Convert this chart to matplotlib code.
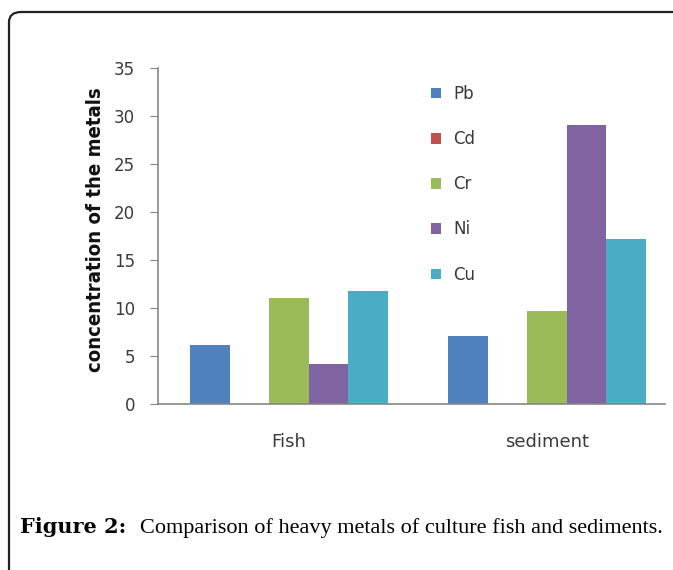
import matplotlib
matplotlib.use("Agg")
import matplotlib.pyplot as plt
import numpy as np
from matplotlib.patches import FancyBboxPatch

categories = ["Fish", "sediment"]
metals = ["Pb", "Cd", "Cr", "Ni", "Cu"]
Pb = [6.1, 7.1]
Cd = [0.0, 0.0]
Cr = [11.0, 9.7]
Ni = [4.2, 29.1]
Cu = [11.8, 17.2]
series = [Pb, Cd, Cr, Ni, Cu]
colors = ["#4F81BD", "#C0504D", "#9BBB59", "#8064A2", "#4BACC6"]
yticks = [0, 5, 10, 15, 20, 25, 30, 35]

W, H = 673, 570
fig = plt.figure(figsize=(W / 100, H / 100), dpi=100)

# rounded border
border = FancyBboxPatch((9 / W, -0.2), 1.2, 1 - 12 / H + 0.2,
                        boxstyle="round,pad=0,rounding_size=0.018",
                        transform=fig.transFigure, fill=False,
                        edgecolor="#222222", linewidth=1.6, clip_on=False)
fig.patches.append(border)

left, right, top, bottom = 158, 665, 68, 404
ax = fig.add_axes([left / W, 1 - bottom / H, (right - left) / W, (bottom - top) / H])

x = np.arange(len(categories))
bw = 0.153
for i, (name, vals, c) in enumerate(zip(metals, series, colors)):
    ax.bar(x + (i - 2) * bw, vals, width=bw, color=c, label=name, zorder=2)

ax.set_xlim(-0.508, 1.457)
ax.set_ylim(0, 35)
ax.set_yticks(yticks)
ax.set_xticks(x)
ax.set_xticklabels(categories)
for s in ["top", "right"]:
    ax.spines[s].set_visible(False)
for s in ["left", "bottom"]:
    ax.spines[s].set_color("#868686")
    ax.spines[s].set_linewidth(1.2)
ax.tick_params(axis="y", direction="out", length=5.5, color="#868686",
               labelsize=12, labelcolor="#3A3A3A", pad=11)
ax.tick_params(axis="x", length=0, labelsize=13, labelcolor="#3A3A3A", pad=21)
for lab in ax.get_xticklabels() + ax.get_yticklabels():
    lab.set_family("DejaVu Sans")

fig.text(96 / W, 1 - 230 / H, "concentration of the metals", rotation=90,
         ha="center", va="center", fontsize=14.6, fontweight="bold",
         fontstretch="condensed",
         family=["DejaVu Sans"], color="#111111")

leg = ax.legend(loc="upper left",
                bbox_to_anchor=((431 - left) / (right - left), 1 - (85 - top) / (bottom - top)),
                frameon=False, handlelength=0.6, handleheight=0.6,
                labelspacing=1.63, handletextpad=0.75, borderaxespad=0, borderpad=0,
                prop={"family": "DejaVu Sans", "size": 12})
for t in leg.get_texts():
    t.set_color("#3A3A3A")

fig.text(20 / W, 1 - 533 / H, "Figure 2:", ha="left", va="baseline", fontsize=15,
         fontweight="bold", family="DejaVu Serif", color="black")
fig.text(140 / W, 1 - 533 / H, "Comparison of heavy metals of culture fish and sediments.",
         ha="left", va="baseline", fontsize=16.0, family="Liberation Serif", color="black")

fig.savefig("out.png", dpi=100)
